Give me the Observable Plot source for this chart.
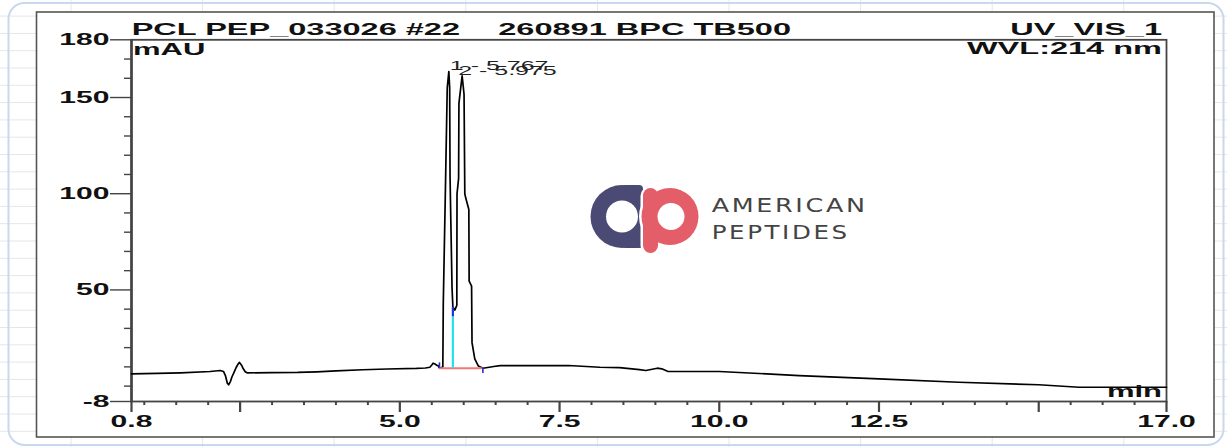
<!DOCTYPE html>
<html><head><meta charset="utf-8">
<script src="https://cdn.jsdelivr.net/npm/d3@7"></script>
<script src="https://cdn.jsdelivr.net/npm/@observablehq/plot@0.6"></script>
<style>
html,body{margin:0;padding:0;background:#fff;overflow:hidden}
#wrap{position:relative;width:1227px;height:447px}
#wrap > svg, #wrap > div{position:absolute;left:0;top:0}
</style></head><body>
<div id="wrap"><svg id="bg" width="1227" height="447"></svg><div id="chart"></div><svg id="logo" width="1227" height="447"></svg></div>
<script>
// ---- data ----
const times = [0.80,1.20,1.57,2.03,2.19,2.24,2.27,2.30,2.32,2.35,2.37,2.41,2.44,2.47,2.49,2.52,2.55,2.58,2.61,3.00,3.40,3.70,4.00,4.42,4.80,5.26,5.40,5.47,5.50,5.52,5.55,5.58,5.60,5.62,5.673,5.68,5.717,5.742,5.767,5.78,5.786,5.817,5.83,5.86,5.892,5.895,5.92,5.925,5.975,6.005,6.017,6.03,6.08,6.085,6.123,6.13,6.173,6.23,6.30,6.40,6.47,6.57,7.03,7.64,8.13,8.44,8.75,8.85,9.03,9.10,9.19,10.0,11.25,12.5,13.75,15.0,15.63,17.0];
const mAU   = [6.4,6.6,6.9,7.6,8.1,7.6,5.5,1.5,0.7,2.5,4.6,7.5,9.8,11.6,12.3,11.0,9.0,7.5,6.9,7.0,7.1,7.4,7.9,8.5,8.9,9.2,9.4,9.8,11.0,11.9,11.5,10.8,10.7,9.3,9.9,42.8,108.6,155,163.5,155,108.6,51.3,41.1,39.5,42,100,108,147,161.3,151.7,100,98,91.8,54.6,52,22.6,14.1,10.4,9.3,9.8,10.2,10.6,10.6,10.7,9.8,9.6,8.6,8.1,9.3,9.0,7.7,7.6,5.5,3.8,2.0,0.7,-0.6,-0.6];
const peakNumbers = [1, 2];
const peakTimes = [5.767, 5.975];
const peakHeights = [163.5, 161.3];
const baselineStart = 5.62, baselineEnd = 6.30, baselineLevel = 9.3;
const dropTime = 5.83, dropMid = 36, dropTop = 41;
const yLabeled = [180, 150, 100, 50, -8];
const yMinor = [170,160,140,130,120,110,90,80,70,60,40,30,20,10,0];
const xMajor = [0.8, 2.5, 5, 7.5, 10, 12.5, 15, 17];
const xLabeled = [0.8, 5, 7.5, 10, 12.5, 17];
const xMinor = [1,1.5,2,3,3.5,4,4.5,5.5,6,6.5,7,8,8.5,9,9.5,10.5,11,11.5,12,13,13.5,14,14.5,15.5,16,16.5];
const titleLeft = "PCL PEP_033026 #22";
const titleMid = "260891 BPC TB500";
const titleRight = "UV_VIS_1";
const wavelength = "WVL:214 nm";
const yUnit = "mAU";
const xUnit = "min";

const trace = times.map((t, i) => ({t, v: mAU[i]}));
const peaks = peakNumbers.map((n, i) => ({n, t: peakTimes[i], h: peakHeights[i]}));

const S = 1.88; // horizontal stretch of the source picture's text
const FONT = "'Liberation Sans', Arial, sans-serif";
const AX = "#444";

// ---- background: sheet grid, rounded border, outer frame ----
const bg = d3.select("#bg");
for (let k = 0; k < 10; k++) bg.append("line").attr("x1", 71 + 131.6*k).attr("x2", 71 + 131.6*k).attr("y1", 0).attr("y2", 447).attr("stroke", "#e4e6ea");
for (let y = 431.3; y > 0; y -= 17.3) bg.append("line").attr("x1", 0).attr("x2", 1227).attr("y1", y).attr("y2", y).attr("stroke", "#e4e6ea");
bg.append("rect").attr("x", 8.5).attr("y", 3).attr("width", 1215).attr("height", 442).attr("rx", 16)
  .attr("fill", "none").attr("stroke", "#c9d7ef").attr("stroke-width", 2);
bg.append("rect").attr("x", 36.5).attr("y", 12).attr("width", 1177.5).attr("height", 425)
  .attr("fill", "#fff").attr("stroke", "#555").attr("stroke-width", 1.6);

// ---- chart ----
const plot = Plot.plot({
  width: 1227, height: 447,
  marginLeft: 131, marginRight: 61, marginTop: 39.3, marginBottom: 46,
  x: {domain: [0.8, 17.0]},
  y: {domain: [-8, 180]},
  style: {fontFamily: FONT, fontSize: "16px", background: "transparent", overflow: "visible", color: "#111"},
  marks: [
    Plot.axisY(yMinor, {tickSize: 7, tickFormat: () => "", label: null, stroke: AX, strokeWidth: 1.4}),
    Plot.axisY(yLabeled, {tickSize: 21, tickPadding: 1, tickFormat: d => String(d), label: null, stroke: AX, strokeWidth: 1.4, fontWeight: "bold", fontSize: 16, fill: "#111"}),
    Plot.axisX(xMinor, {tickSize: 4, tickFormat: () => "", label: null, stroke: AX, strokeWidth: 2}),
    Plot.axisX(xMajor, {tickSize: 11, tickPadding: 3, tickFormat: d => xLabeled.includes(d) ? d.toFixed(1) : "", label: null, stroke: AX, strokeWidth: 2.2, fontWeight: "bold", fontSize: 16, fill: "#111"}),
    Plot.frame({stroke: AX, strokeWidth: 1.8}),
    Plot.ruleX([0.8], {stroke: AX, strokeWidth: 2.6}),
    Plot.line(trace, {x: "t", y: "v", stroke: "#000", strokeWidth: 1.7}),
    Plot.ruleY([baselineLevel], {x1: baselineStart, x2: baselineEnd, stroke: "#f07878", strokeWidth: 2}),
    Plot.ruleX([dropTime], {y1: baselineLevel, y2: dropMid, stroke: "#22e0ee", strokeWidth: 2.2}),
    Plot.ruleX([dropTime], {y1: dropMid, y2: dropTop, stroke: "#2233cc", strokeWidth: 2.2}),
    Plot.ruleX([baselineStart], {y1: baselineLevel, y2: baselineLevel + 2.8, stroke: "#2233cc", strokeWidth: 1.6}),
    Plot.ruleX([baselineEnd], {y1: baselineLevel - 2.8, y2: baselineLevel, stroke: "#2233cc", strokeWidth: 1.6}),
    Plot.text([peaks[0]], {x: "t", y: "h", text: d => `${d.n} - ${d.t.toFixed(3)}`, textAnchor: "start", lineAnchor: "bottom", dx: 1, dy: -2, fontSize: 13.3, fill: "#222"}),
    Plot.text([peaks[1]], {x: "t", y: "h", text: d => `${d.n} - ${d.t.toFixed(3)}`, textAnchor: "start", lineAnchor: "bottom", dx: -4, dy: -1, fontSize: 13.3, fill: "#222"})
  ]
});
document.getElementById("chart").appendChild(plot);

// header / unit labels
const svg = d3.select(plot);
const head = [
  {s: titleLeft, x: 131.7, y: 35, a: "start", f: 17.3},
  {s: titleMid, x: 498.3, y: 35, a: "start", f: 17.3},
  {s: titleRight, x: 1162, y: 35, a: "end", f: 17.3},
  {s: yUnit, x: 133, y: 55, a: "start", f: 16.5},
  {s: wavelength, x: 1162, y: 54.5, a: "end", f: 17.3},
  {s: xUnit, x: 1162, y: 397.5, a: "end", f: 16.5}
];
head.forEach(h => svg.append("text").attr("x", h.x).attr("y", h.y).attr("text-anchor", h.a)
  .attr("font-size", h.f).attr("font-weight", "bold").attr("font-family", FONT).attr("fill", "#111").text(h.s));

// stretch all chart text horizontally like the source picture
plot.querySelectorAll("text").forEach(t => {
  const x = parseFloat(t.getAttribute("x")) || 0;
  const tr = t.getAttribute("transform") || "";
  t.setAttribute("transform", `${tr} translate(${x},0) scale(${S},1) translate(${-x},0)`);
});

// ---- watermark logo ----
const lg = d3.select("#logo");
const NAVY = "#4a4a74", CORAL = "#e35e68";
lg.append("rect").attr("x", 622).attr("y", 185).attr("width", 21).attr("height", 63).attr("rx", 4).attr("fill", NAVY);
lg.append("circle").attr("cx", 622).attr("cy", 216.5).attr("r", 31.5).attr("fill", NAVY);
lg.append("circle").attr("cx", 622).attr("cy", 216.5).attr("r", 16).attr("fill", "#fff");
// p with white outline
lg.append("rect").attr("x", 640.5).attr("y", 186).attr("width", 20).attr("height", 69.5).attr("rx", 10).attr("fill", "#fff");
lg.append("circle").attr("cx", 670).attr("cy", 216.5).attr("r", 31).attr("fill", "#fff");
lg.append("rect").attr("x", 643).attr("y", 188).attr("width", 15).attr("height", 65).attr("rx", 7.5).attr("fill", CORAL);
lg.append("circle").attr("cx", 670).attr("cy", 216.5).attr("r", 28.5).attr("fill", CORAL);
lg.append("circle").attr("cx", 671).attr("cy", 216.5).attr("r", 13.5).attr("fill", "#fff");
lg.append("text").attr("x", 711.7).attr("y", 211.7).attr("font-family", "'DejaVu Sans', sans-serif").attr("font-size", 19)
  .attr("letter-spacing", 2).attr("fill", "#444").attr("textLength", 156).attr("lengthAdjust", "spacingAndGlyphs").text("AMERICAN");
lg.append("text").attr("x", 711.7).attr("y", 238.5).attr("font-family", "'DejaVu Sans', sans-serif").attr("font-size", 19)
  .attr("letter-spacing", 2).attr("fill", "#444").attr("textLength", 138).attr("lengthAdjust", "spacingAndGlyphs").text("PEPTIDES");
</script>
</body></html>
